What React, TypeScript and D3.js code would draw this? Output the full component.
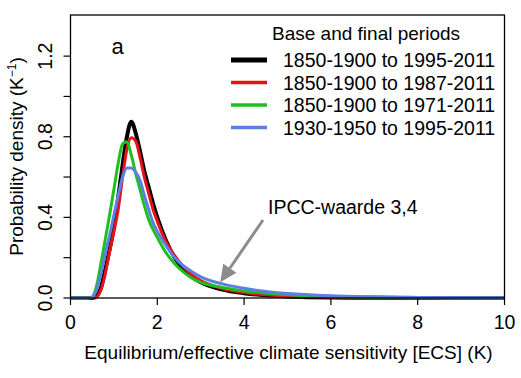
import React from "react";
import * as d3 from "d3";

const ecsGrid = [0, 0.4, 0.5, 0.6, 0.7, 0.8, 0.9, 1.0, 1.1, 1.2, 1.3, 1.4, 1.5, 1.6, 1.7, 1.8, 1.9, 2.0, 2.2, 2.4, 2.6, 2.8, 3.0, 3.5, 4.0, 4.5, 5.0, 6.0, 7.0, 8.0, 10.0];

const black = [0, 0, 0, 0.01, 0.05, 0.14, 0.24, 0.35, 0.5, 0.66, 0.8, 0.875, 0.82, 0.73, 0.63, 0.55, 0.47, 0.4, 0.285, 0.2, 0.145, 0.105, 0.078, 0.042, 0.024, 0.013, 0.007, 0.002, 0.001, 0, 0];
const red = [0, 0, 0, 0.005, 0.04, 0.12, 0.23, 0.33, 0.44, 0.6, 0.74, 0.795, 0.78, 0.7, 0.6, 0.52, 0.44, 0.38, 0.28, 0.21, 0.155, 0.115, 0.086, 0.047, 0.027, 0.016, 0.009, 0.003, 0.001, 0, 0];
const green = [0, 0, 0.005, 0.06, 0.17, 0.29, 0.41, 0.54, 0.67, 0.765, 0.775, 0.71, 0.62, 0.54, 0.46, 0.39, 0.34, 0.3, 0.225, 0.17, 0.13, 0.098, 0.077, 0.052, 0.035, 0.024, 0.016, 0.007, 0.003, 0.001, 0];
const blue = [0, 0, 0.005, 0.04, 0.12, 0.22, 0.31, 0.41, 0.51, 0.6, 0.645, 0.645, 0.625, 0.585, 0.51, 0.44, 0.375, 0.33, 0.26, 0.2, 0.16, 0.13, 0.105, 0.07, 0.048, 0.032, 0.022, 0.011, 0.006, 0.003, 0.001];

const seriesNames = ["1850-1900 to 1995-2011", "1850-1900 to 1987-2011", "1850-1900 to 1971-2011", "1930-1950 to 1995-2011"];
const seriesColors = ["#000000", "#e8111a", "#1bc21d", "#5b7fe3"];
const seriesWidths = [4, 3, 3, 3];
const seriesValues = [black, red, green, blue];

const xTicks = [0, 2, 4, 6, 8, 10];
const yTicksLabeled = [0, 0.4, 0.8, 1.2];
const yTicksAll = [0, 0.2, 0.4, 0.6, 0.8, 1.0, 1.2];

const annotationText = "IPCC-waarde 3,4";
const annotationX = 3.45;

export default function App() {
  const W = 521, H = 378;
  const left = 70.5, right = 504.5, top = 15, bottom = 298;
  const x = d3.scaleLinear().domain([0, 10]).range([left, right]);
  const y = d3.scaleLinear().domain([0, 1.404]).range([bottom, top]);
  const font = "'Liberation Sans', Arial, sans-serif";
  const fs = 19;

  const line = d3.line<number>()
    .x((_, i) => x(ecsGrid[i]))
    .y((d) => y(d))
    .curve(d3.curveMonotoneX);

  const tipX = x(annotationX);
  const tipY = y(0.078);
  const startX = 263, startY = 220;
  const ang = Math.atan2(tipY - startY, tipX - startX);
  const headLen = 17, headW = 8;
  const bx = tipX - headLen * Math.cos(ang), by = tipY - headLen * Math.sin(ang);
  const px = -Math.sin(ang), py = Math.cos(ang);
  const head = `M${tipX},${tipY} L${bx + headW * px},${by + headW * py} L${bx - headW * px},${by - headW * py} Z`;

  const legX1 = 231, legX2 = 267, legY0 = 60, legDy = 22.5;

  return (
    <svg width={W} height={H} style={{ position: "absolute", left: 0, top: 0, background: "#fff" }} fontFamily={font}>
      <rect x={0} y={0} width={W} height={H} fill="#fff" />
      {seriesValues.map((vals, i) => (
        <path key={i} d={line(vals) || ""} fill="none" stroke={seriesColors[i]} strokeWidth={seriesWidths[i]} strokeLinejoin="round" />
      ))}
      <rect x={left} y={top} width={right - left} height={bottom - top} fill="none" stroke="#000" strokeWidth={1.3} />
      {xTicks.map((t) => (
        <g key={t}>
          <line x1={x(t)} x2={x(t)} y1={bottom} y2={bottom + 7} stroke="#000" strokeWidth={1.2} />
          <text x={x(t)} y={bottom + 31} fontSize={19.5} textAnchor="middle">{t}</text>
        </g>
      ))}
      {yTicksAll.map((t) => (
        <line key={t} x1={left - 7} x2={left} y1={y(t)} y2={y(t)} stroke="#000" strokeWidth={1.2} />
      ))}
      {yTicksLabeled.map((t) => (
        <text key={t} transform={`translate(${52},${y(t)}) rotate(-90)`} fontSize={19.5} textAnchor="middle">{t.toFixed(1)}</text>
      ))}
      <text x={(left + right) / 2 + 1} y={359} fontSize={fs} textAnchor="middle">Equilibrium/effective climate sensitivity [ECS] (K)</text>
      <text transform={`translate(23,${(top + bottom) / 2}) rotate(-90)`} fontSize={fs} textAnchor="middle">
        Probability density (K<tspan dy={-7} fontSize={12}>−1</tspan><tspan dy={7}>)</tspan>
      </text>
      <text x={117.5} y={54} fontSize={22} textAnchor="middle">a</text>
      <text x={272} y={40} fontSize={19}>Base and final periods</text>
      {seriesNames.map((n, i) => (
        <g key={n}>
          <line x1={legX1} x2={legX2} y1={legY0 + i * legDy} y2={legY0 + i * legDy} stroke={seriesColors[i]} strokeWidth={i === 0 ? 5 : 3.5} />
          <text x={283} y={legY0 + i * legDy + 7} fontSize={19.5}>{n}</text>
        </g>
      ))}
      <line x1={startX} y1={startY} x2={bx} y2={by} stroke="#8c8c8c" strokeWidth={3} />
      <path d={head} fill="#8c8c8c" />
      <text x={268} y={214} fontSize={19.5}>{annotationText}</text>
    </svg>
  );
}
